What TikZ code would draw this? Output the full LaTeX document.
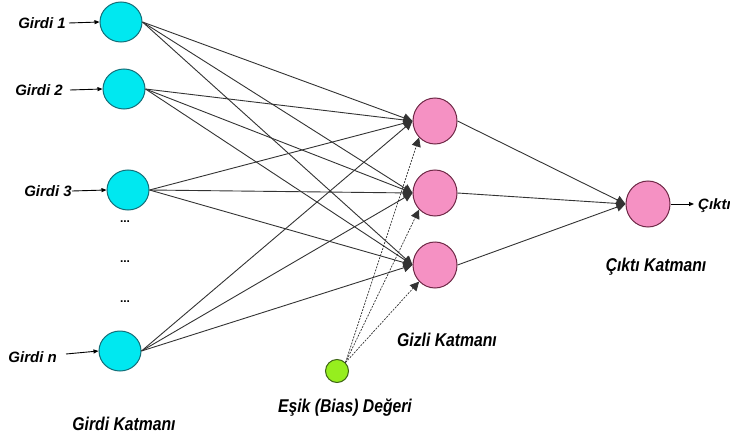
\documentclass[tikz,border=0pt]{standalone}
\usepackage{fontspec}
\setmainfont{Liberation Sans}
\usetikzlibrary{shapes.geometric,arrows.meta}
\definecolor{incyan}{RGB}{0,232,240}
\definecolor{inedge}{RGB}{20,110,120}
\definecolor{hpink}{RGB}{245,145,195}
\definecolor{hedge}{RGB}{110,40,70}
\definecolor{bgreen}{RGB}{150,238,30}
\definecolor{bedge}{RGB}{60,100,20}
\newcommand{\lab}[1]{\scalebox{0.85}[1]{#1}}
\tikzset{
  innode/.style={ellipse,draw=inedge,line width=1pt,fill=incyan,minimum width=42pt,minimum height=40pt,inner sep=0pt},
  hnode/.style={ellipse,draw=hedge,line width=1pt,fill=hpink,minimum width=44pt,minimum height=46pt,inner sep=0pt},
  bnode/.style={circle,draw=bedge,line width=1pt,fill=bgreen,minimum size=23pt,inner sep=0pt},
  txt/.style={font=\fontsize{18.5}{20}\selectfont\bfseries\itshape,inner sep=0pt},
  intxt/.style={font=\fontsize{15}{17}\selectfont\bfseries\itshape,inner sep=0pt},
  conn/.style={draw=black!80,line width=0.9pt,-{Triangle[length=9pt,width=9pt]}},
  biasconn/.style={draw=black!80,line width=0.7pt,dash pattern=on 2pt off 1.2pt,-{Triangle[length=9pt,width=9pt]}},
  inarrow/.style={draw=black,line width=0.9pt,-{Triangle[length=5pt,width=4pt]}},
  dotlab/.style={font=\fontsize{12}{12}\selectfont\bfseries,inner sep=0pt}
}
\begin{document}
\begin{tikzpicture}[x=1pt,y=-1pt]
\useasboundingbox (0,0) rectangle (730,441);
% input nodes
\node[innode] (i1) at (121,22) {};
\node[innode] (i2) at (124,89) {};
\node[innode] (i3) at (128,190) {};
\node[innode] (in) at (120,351) {};
% hidden
\node[hnode] (h1) at (435,121) {};
\node[hnode] (h2) at (435,193) {};
\node[hnode] (h3) at (435,265) {};
% output
\node[hnode] (o) at (648,204) {};
% bias
\node[bnode] (b) at (337,371) {};
% input labels
\node[intxt,anchor=east] (l1) at (66,23) {Girdi 1};
\node[intxt,anchor=east] (l2) at (63,90) {Girdi 2};
\node[intxt,anchor=east] (l3) at (72,191) {Girdi 3};
\node[intxt,anchor=east] (ln) at (57,357) {Girdi n};
\coordinate (s1) at (69,23);
\coordinate (s2) at (70,90);
\coordinate (s3) at (72,191);
\coordinate (sn) at (66,354);
\draw[inarrow] (s1) -- (i1.west);
\draw[inarrow] (s2) -- (i2.west);
\draw[inarrow] (s3) -- (i3.west);
\draw[inarrow] (sn) -- (in.west);
% dots
\node[dotlab] (d1) at (125,222) {...};
\node[dotlab] (d2) at (125,262) {...};
\node[dotlab] (d3) at (125,302) {...};
% input -> hidden
\foreach \i in {i1,i2,i3,in}{
  \foreach \h in {h1,h2,h3}{
    \draw[conn] (\i.east) -- (\h.west);
  }
}
% bias -> hidden
\foreach \h in {h1,h2,h3}{
  \draw[biasconn] (b.north east) -- (\h.south west);
}
% hidden -> output
\foreach \h in {h1,h2,h3}{
  \draw[conn] (\h.east) -- (o.west);
}
% output label
\node[intxt,anchor=west] (c) at (698,206) {Çıktı};
\coordinate (ce) at (694,204);
\draw[inarrow] (o.east) -- (ce);
% layer labels
\node[txt] (gk) at (124,424) {\lab{Girdi Katmanı}};
\node[txt] (bk) at (345,408) {\lab{Eşik (Bias) Değeri}};
\node[txt] (hk) at (447,340) {\lab{Gizli Katmanı}};
\node[txt] (ok) at (656,267) {\lab{Çıktı Katmanı}};
\end{tikzpicture}
\end{document}
